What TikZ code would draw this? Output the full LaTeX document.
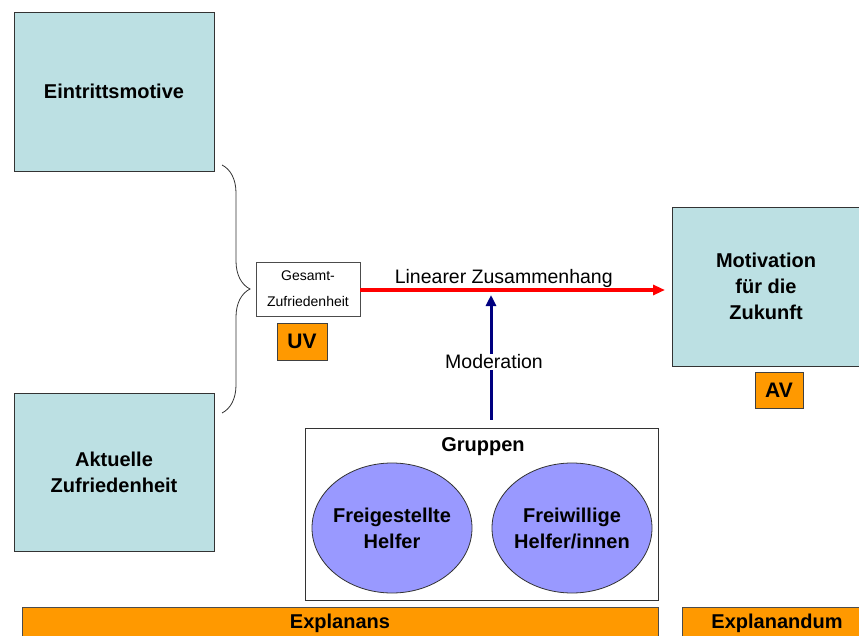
\documentclass[tikz,border=0pt]{standalone}
\usepackage{fontspec}
\setmainfont{Liberation Sans}
\usetikzlibrary{arrows.meta,decorations.pathreplacing,shapes.geometric}

\definecolor{boxcyan}{HTML}{BCE0E3}
\definecolor{varorange}{HTML}{FF9900}
\definecolor{grouplilac}{HTML}{9999FF}
\definecolor{modnavy}{HTML}{000080}

\begin{document}
\begin{tikzpicture}[x=1pt, y=-1pt,
  every node/.style={inner sep=2pt},
  varbox/.style={rectangle, draw=black!80, fill=boxcyan, line width=0.9pt, align=center,
    font=\fontsize{20}{26}\selectfont\bfseries},
  tagbox/.style={rectangle, draw=black!75, fill=varorange, line width=0.9pt,
    font=\fontsize{21}{24}\selectfont\bfseries},
  groupell/.style={ellipse, draw=black!80, fill=grouplilac, line width=0.8pt, align=center,
    inner xsep=-8pt, inner ysep=0pt,
    minimum width=160, minimum height=130, font=\fontsize{20}{26}\selectfont\bfseries},
  barbox/.style={rectangle, draw=black!70, fill=varorange, line width=0.8pt,
    minimum height=33, font=\fontsize{20}{22}\selectfont\bfseries},
  lbl/.style={text=black, font=\fontsize{19.5}{22}\selectfont}]
\useasboundingbox (0,0) rectangle (859,636);

% independent variables
\node[varbox, minimum width=200, minimum height=159] (eintritt) at (114,91.5) {Eintrittsmotive};
\node[varbox, minimum width=200, minimum height=158] (aktuell) at (114,472) {Aktuelle\\Zufriedenheit};
\node[rectangle, draw=black!70, fill=white, line width=0.8pt, minimum width=104, minimum height=54,
  align=center, font=\fontsize{14}{26}\selectfont] (gesamt) at (308,289) {Gesamt-\\Zufriedenheit};
\node[tagbox, minimum width=50, minimum height=37] (uv) at (302,341.5) {UV};

% dependent variable
\node[varbox, minimum width=188, minimum height=159] (motiv) at (766,286.5) {Motivation\\für die\\Zukunft};
\node[tagbox, minimum width=48, minimum height=36] (av) at (779,390) {AV};

% groups
\node[rectangle, draw=black!80, fill=white, line width=0.9pt, minimum width=353, minimum height=172] (gruppen) at (481.5,514) {};
\node[font=\fontsize{20}{22}\selectfont\bfseries] (gruppenlbl) at (483,447) {Gruppen};
\node[groupell] (freigestellt) at (392,528) {Freigestellte\\Helfer};
\node[groupell] (freiwillig) at (572,528) {Freiwillige\\Helfer/innen};

% bars
\node[barbox, minimum width=636] (explanans) at (340,623.5) {Explanans};
\node[barbox, minimum width=190] (explanandum) at (777,623.5) {Explanandum};

% brace
\draw[black!80, line width=0.8pt, decorate, decoration={brace, amplitude=28}] (222,165) -- (222,413);

% connectors
\coordinate (lintip) at (672,290);
\coordinate (modtip) at (491,295);
\draw[red, line width=3pt, -{Triangle[length=12pt, width=10pt]}, shorten >=7pt] (gesamt.east |- lintip) -- (lintip)
  node[lbl, pos=0.46, above, inner sep=1pt] (linlbl) {Linearer Zusammenhang};
\draw[modnavy, line width=3pt, -{Triangle[length=11pt, width=10pt]}, shorten <=8pt] (gruppen.north -| modtip) -- (modtip);
\node[lbl, fill=white, inner sep=1pt] (modlbl) at (494,362) {Moderation};
\end{tikzpicture}
\end{document}
